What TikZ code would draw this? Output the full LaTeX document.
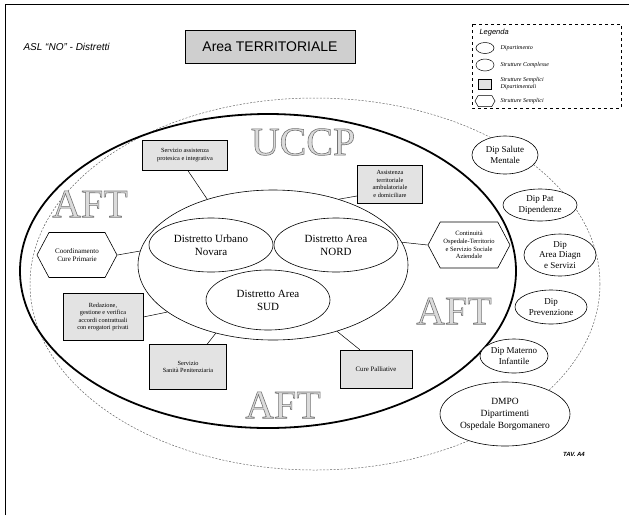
\documentclass[tikz,border=0pt]{standalone}
\usepackage{fontspec}
\setmainfont{Liberation Serif}
\setsansfont{Liberation Sans}
\usetikzlibrary{shapes.geometric,shapes.symbols}

% hollow lettering: stroked outline with a pale fill
\newcommand{\hollowword}[1]{%
  \special{pdf:literal direct 0.86 g 0.45 G 2 Tr 0.6 w}#1\special{pdf:literal direct 0 Tr}}

\tikzset{
  frameline/.style={line width=0.8pt, black},
  sbox/.style={draw, fill=gray!22, line width=0.6pt, align=center,
    font=\fontsize{6.3}{7.4}\selectfont, inner sep=1pt},
  hexa/.style={draw, fill=white, line width=0.6pt, shape=signal,
    signal to=west and east, signal pointer angle=124, align=center,
    inner sep=0pt, font=\fontsize{6.5}{7.6}\selectfont},
  distr/.style={draw, ellipse, line width=0.6pt, align=center, inner sep=0pt,
    font=\fontsize{11}{13}\selectfont},
  dip/.style={draw, ellipse, fill=white, line width=0.6pt, align=center,
    inner sep=0pt, font=\fontsize{9}{10.5}\selectfont},
  link/.style={line width=0.5pt},
  bigword/.style={font=\fontsize{40}{40}\selectfont, inner sep=0pt},
  legtext/.style={anchor=west, font=\fontsize{6}{7}\selectfont\itshape, align=left},
}

\begin{document}
\begin{tikzpicture}[x=1pt,y=-1pt]
\useasboundingbox (0,0) rectangle (629,515);

% page frame
\draw[frameline] (5,515) -- (5,4) -- (629,4);

% heading
\node[anchor=west, font=\sffamily\itshape\fontsize{10}{12}\selectfont] (asl) at (20,47) {ASL ``NO'' - Distretti};
\node[draw, fill=gray!38, line width=0.6pt, minimum width=170, minimum height=33,
  font=\sffamily\fontsize{14}{16}\selectfont] (area) at (270,47) {Area TERRITORIALE};

% legend
\draw[dashed, line width=0.4pt] (472,24) rectangle (621,108);
\node[anchor=west, font=\sffamily\itshape\fontsize{7.5}{9}\selectfont] (legtitle) at (476,33) {Legenda};
\node[draw, ellipse, minimum width=18, minimum height=11, inner sep=0pt, line width=0.5pt] (lg1) at (485,48) {};
\node[legtext] (lt1) at (497,48) {Dipartimento};
\node[draw, ellipse, minimum width=18, minimum height=12, inner sep=0pt, line width=0.5pt] (lg2) at (485,65) {};
\node[legtext] (lt2) at (497,65) {Strutture Complesse};
\node[draw, fill=gray!22, minimum width=13, minimum height=10, inner sep=0pt, line width=0.5pt] (lg3) at (485,84) {};
\node[legtext] (lt3) at (497,84) {Strutture Semplici\\Dipartimentali};
\node[draw, shape=signal, signal to=west and east, signal pointer angle=120,
  minimum width=20, minimum height=11, inner sep=0pt, line width=0.5pt] (lg4) at (485,101) {};
\node[legtext] (lt4) at (497,101) {Strutture Semplici};

% outer dashed boundary and bold territorial boundary
\draw[gray!80!black, line width=0.5pt, dash pattern=on 2pt off 1.5pt] (315,284) ellipse [x radius=285, y radius=186];
\draw[line width=1.8pt] (268,271) ellipse [x radius=248, y radius=157];

% large hollow words
\node[bigword] (uccp) at (303,142) {\hollowword{UCCP}};
\node[bigword] (aftw) at (90,204) {\hollowword{AFT}};
\node[bigword] (afte) at (454,311) {\hollowword{AFT}};
\node[bigword] (afts) at (283,405) {\hollowword{AFT}};

% district area
\node[draw, ellipse, line width=0.6pt, minimum width=270, minimum height=150, inner sep=0pt] (inner) at (273,265) {};

% services
\node[sbox, minimum width=85, minimum height=30] (prot) at (185,155) {Servizio assistenza\\protesica e integrativa};
\node[sbox, minimum width=65, minimum height=38] (assist) at (390,184) {Assistenza\\territoriale\\ambulatoriale\\e domiciliare};
\node[sbox, minimum width=80, minimum height=47] (redaz) at (103,317) {Redazione,\\gestione e verifica\\accordi contrattuali\\con erogatori privati};
\node[sbox, minimum width=77, minimum height=45] (sanita) at (188,367) {Servizio\\Sanità Penitenziaria};
\node[sbox, minimum width=72, minimum height=38, font=\fontsize{6.8}{8}\selectfont] (cure) at (376,369) {Cure Palliative};
\node[hexa, minimum width=80, minimum height=45, font=\fontsize{7}{8.5}\selectfont] (coord) at (77,255) {Coordinamento\\Cure Primarie};
\node[hexa, minimum width=82, minimum height=46] (cont) at (469,245) {Continuità\\Ospedale-Territorio\\e Servizio Sociale\\Aziendale};

% connectors to the district area
\draw[link] (prot.-80) -- (inner.135);
\draw[link] (assist.200) -- (inner.45);
\draw[link] (coord.east) -- (inner.174);
\draw[link] (redaz.east) -- (inner.204);
\draw[link] (sanita.50) -- (inner.230);
\draw[link] (cure.130) -- (inner.314);
\draw[link] (cont.west) -- (inner.10);

% districts
\node[distr, minimum width=124, minimum height=54] (urb) at (211,245) {Distretto Urbano\\Novara};
\node[distr, minimum width=124, minimum height=54] (nord) at (336,245) {Distretto Area\\NORD};
\node[distr, minimum width=124, minimum height=60] (sud) at (268,300) {Distretto Area\\SUD};

% departments
\node[dip, minimum width=66, minimum height=38] (dsm) at (505,155) {Dip Salute\\Mentale};
\node[dip, minimum width=74, minimum height=32] (dpd) at (540,205) {Dip Pat\\Dipendenze};
\node[dip, minimum width=72, minimum height=42] (dad) at (560,255) {Dip\\Area Diagn\\e Servizi};
\node[dip, minimum width=72, minimum height=34] (dpr) at (551,307) {Dip\\Prevenzione};
\node[dip, minimum width=68, minimum height=34] (dmi) at (514,356) {Dip Materno\\Infantile};
\node[dip, minimum width=130, minimum height=64, font=\fontsize{9.5}{12}\selectfont] (dmpo) at (505,414) {DMPO\\Dipartimenti\\Ospedale Borgomanero};

\node[font=\sffamily\bfseries\itshape\fontsize{6}{7}\selectfont] (tav) at (574,454) {TAV. A4};
\end{tikzpicture}
\end{document}
